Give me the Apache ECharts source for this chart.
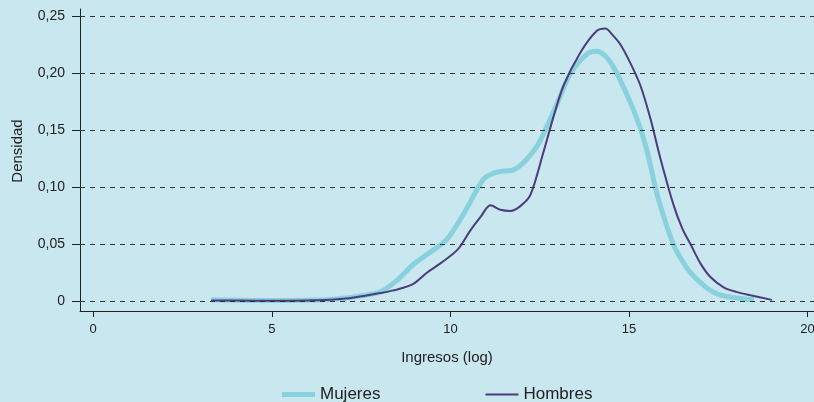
<!DOCTYPE html>
<html><head><meta charset="utf-8">
<script src="https://cdn.jsdelivr.net/npm/echarts@6/dist/echarts.min.js"></script>
<style>html,body{margin:0;padding:0;background:#c8e7ef;}#c{width:814px;height:402px;}</style>
</head><body><div id="c"></div>
<script>
var xTicks = [0, 5, 10, 15, 20];
var yTicks = [0, 0.05, 0.10, 0.15, 0.20, 0.25];
var mujeres = [
 [3.3,0.001],[4.5,0.0005],[5.5,0.0005],[6.45,0.001],[6.7,0.0015],[7.4,0.004],[8.04,0.008],[8.5,0.018],[8.96,0.032],[9.4,0.042],[9.9,0.054],
 [10.38,0.077],[10.93,0.107],[11.2,0.112],[11.5,0.114],[11.77,0.115],[12.1,0.123],[12.43,0.136],[12.7,0.153],[13.0,0.174],[13.37,0.2],[13.84,0.217],
 [14.1,0.219],[14.3,0.216],[14.49,0.209],[14.75,0.194],[15.04,0.174],[15.3,0.153],[15.52,0.13],[15.8,0.092],[16.24,0.05],[16.6,0.03],[16.9,0.019],
 [17.2,0.011],[17.48,0.006],[17.9,0.003],[18.5,0.001]
];
var hombres = [
 [3.3,0.0005],[4.5,0.0003],[5.5,0.0003],[6.2,0.0006],[6.64,0.001],[7.3,0.003],[8.04,0.007],[8.5,0.010],[8.96,0.015],[9.35,0.025],[9.72,0.033],[10.2,0.045],
 [10.56,0.062],[10.85,0.074],[11.12,0.084],[11.4,0.080],[11.68,0.079],[11.95,0.083],[12.24,0.093],[12.6,0.13],[12.9,0.163],[13.17,0.189],[13.64,0.218],
 [14.1,0.237],[14.34,0.239],[14.55,0.233],[14.76,0.225],[15.05,0.208],[15.32,0.189],[15.6,0.16],[15.88,0.125],[16.24,0.085],[16.5,0.063],[16.72,0.05],
 [17.0,0.033],[17.28,0.021],[17.65,0.012],[18.0,0.008],[18.4,0.005],[19.0,0.001]
];
var chart = echarts.init(document.getElementById('c'));
var fmtY = function(v){ return v === 0 ? '0' : v.toFixed(2).replace('.', ','); };
var FONT = 'Liberation Sans, Arial, sans-serif';
chart.setOption({
  backgroundColor: '#c8e7ef',
  animation: false,
  textStyle: {fontFamily: FONT},
  grid: {left: 80, right: 0, top: 9, bottom: 91, containLabel: false, outerBoundsMode: 'none'},
  legend: {
    left: 277, top: 381, itemGap: 105,
    itemWidth: 33, itemHeight: 6,
    textStyle: {fontSize: 17, color: '#222', fontFamily: FONT},
    data: [
      {name: 'Mujeres', icon: 'path://M0,0L33,0Z M0,0.5H33V5.5H0Z M0,6L33,6Z'},
      {name: 'Hombres', icon: 'path://M0,0L33,0Z M0,2H33V4H0Z M0,6L33,6Z'}
    ]
  },
  xAxis: {
    type: 'value', min: -0.37, max: 20.18,
    name: 'Ingresos (log)', nameLocation: 'middle', nameGap: 39,
    nameTextStyle: {fontSize: 15, color: '#222', verticalAlign: 'top'},
    axisLine: {show: true, onZero: false, lineStyle: {color: '#222', width: 1}},
    axisTick: {show: true, length: 6, customValues: xTicks, lineStyle: {color: '#222'}},
    axisLabel: {customValues: xTicks, fontSize: 13, color: '#222', margin: 12, hideOverlap: false},
    splitLine: {show: false}
  },
  yAxis: {
    type: 'value', min: -0.00877, max: 0.2561,
    name: 'Densidad', nameLocation: 'middle', nameGap: 55, nameRotate: 90,
    nameTextStyle: {fontSize: 15, color: '#222', padding: [0, 0, 0, 18]},
    axisLine: {show: true, onZero: false, lineStyle: {color: '#222', width: 1}},
    axisTick: {show: true, length: 8, customValues: yTicks, lineStyle: {color: '#222'}},
    axisLabel: {customValues: yTicks, fontSize: 14, color: '#222', margin: 15, formatter: fmtY},
    splitLine: {show: false}
  },
  series: [
    {
      name: 'grid', type: 'line', data: [], z: 1, silent: true,
      markLine: {
        silent: true, symbol: 'none', label: {show: false},
        lineStyle: {color: '#333', width: 1, type: [5, 5]},
        data: yTicks.map(function(v){ return {yAxis: v}; })
      }
    },
    {
      name: 'Mujeres', type: 'line', data: mujeres, smooth: 0.3, symbol: 'none', z: 3,
      lineStyle: {color: '#8ad1de', width: 5}, itemStyle: {color: '#8ad1de'}
    },
    {
      name: 'Hombres', type: 'line', data: hombres, smooth: 0.3, symbol: 'none', z: 4,
      lineStyle: {color: '#4d3b7d', width: 2}, itemStyle: {color: '#4d3b7d'}
    }
  ]
});
</script></body></html>
